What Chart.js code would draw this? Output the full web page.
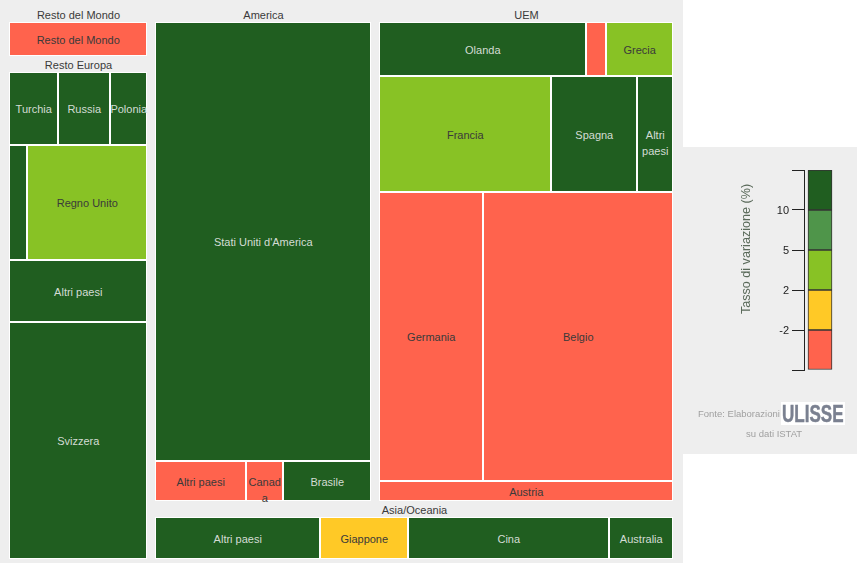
<!DOCTYPE html>
<html><head><meta charset="utf-8">
<style>
html,body{margin:0;padding:0;background:#fff;overflow:hidden;width:857px;height:563px;font-family:"Liberation Sans",Arial,sans-serif}
#mapWrap{position:absolute;left:0;top:0;width:683px;height:563px}
#legendWrap{position:absolute;left:683px;top:147px;width:174px;height:307px;background:#eee}
canvas{display:block}
.src{position:absolute;font-size:9.5px;color:#a0a0a0;white-space:nowrap;line-height:12px}
#logo{position:absolute;left:781px;top:402px;width:64px;height:23px;background:#fff;overflow:hidden}
#logo span{position:absolute;left:1px;top:-2px;font:bold 24px/28px "Liberation Sans",Arial,sans-serif;color:#7a8090;-webkit-text-stroke:.5px #7a8090;transform-origin:0 0;transform:scaleX(.71)}
</style>
<script src="https://cdn.jsdelivr.net/npm/chart.js@4/dist/chart.umd.js"></script>
</head><body>
<div id="mapWrap"><canvas id="map" width="683" height="563" style="width:683px;height:563px"></canvas></div>
<div id="legendWrap"><canvas id="legend" width="174" height="307" style="width:174px;height:307px"></canvas></div>
<div class="src" style="left:698px;top:408px">Fonte: Elaborazioni</div>
<div id="logo"><span>ULISSE</span></div>
<div class="src" style="left:746px;top:428px">su dati ISTAT</div>
<script>
// ---- data ----
const classColors = ['#ff634d', '#ffc926', '#88c225', '#4f954a', '#205e20'];
const classText   = ['#3a3a3a', '#3a3a3a', '#3a3a3a', '#dcdcdc', '#d4dcd4'];

const restoMondoName = 'Resto del Mondo';
const restoMondoLabels = ['Resto del Mondo'];
const restoMondoValues = [69.0];
const restoMondoClasses = [0];
const restoMondoRows = [1];

const restoEuropaName = 'Resto Europa';
const restoEuropaLabels = ['Turchia', 'Russia', 'Polonia', '', 'Regno Unito', 'Altri paesi', 'Svizzera'];
const restoEuropaValues = [36.9, 39.2, 27.9, 21.4, 142.5, 88.4, 337.8];
const restoEuropaClasses = [4, 4, 4, 4, 2, 4, 4];
const restoEuropaRows = [3, 2, 1, 1];

const americaName = 'America';
const americaLabels = ["Stati Uniti d'America", 'Altri paesi', 'Canada', 'Brasile'];
const americaValues = [995.3, 38.2, 15.5, 37.0];
const americaClasses = [4, 0, 0, 4];
const americaRows = [1, 3];

const uemName = 'UEM';
const uemLabels = ['Olanda', '', 'Grecia', 'Francia', 'Spagna', 'Altri paesi', 'Germania', 'Belgio', 'Austria'];
const uemValues = [117.3, 11.3, 38.0, 209.4, 104.7, 43.8, 315.5, 576.3, 61.7];
const uemClasses = [4, 0, 2, 2, 4, 4, 0, 0, 0];
const uemRows = [3, 3, 2, 1];

const asiaName = 'Asia/Oceania';
const asiaLabels = ['Altri paesi', 'Giappone', 'Cina', 'Australia'];
const asiaValues = [95.7, 51.0, 116.6, 37.1];
const asiaClasses = [4, 1, 4, 4];
const asiaRows = [4];

const legendStops = ['', '-2', '2', '5', '10', ''];
const legendBands = [1, 1, 1, 1, 1];
const legendTitle = 'Tasso di variazione (%)';

// ---- layout (derived from the values) ----
const FONT = '"Liberation Sans", Arial, sans-serif';
const DOMAIN = {w: 683, h: 563};
const ROOT = {x: 9, y: 6, w: 664, h: 553};
const HEADER = 16, GAP = 8, LINE = 16;

const mk = (name, labels, values, classes, rows) => ({name, labels, values, classes, rows});
const sum = a => a.reduce((s, v) => s + v, 0);
const G = {
  mondo: mk(restoMondoName, restoMondoLabels, restoMondoValues, restoMondoClasses, restoMondoRows),
  europa: mk(restoEuropaName, restoEuropaLabels, restoEuropaValues, restoEuropaClasses, restoEuropaRows),
  america: mk(americaName, americaLabels, americaValues, americaClasses, americaRows),
  uem: mk(uemName, uemLabels, uemValues, uemClasses, uemRows),
  asia: mk(asiaName, asiaLabels, asiaValues, asiaClasses, asiaRows)
};
const total = g => sum(g.values);
const cells = [], headers = [];
function placeGroup(g, b) {
  headers.push({text: g.name, cx: b.x + b.w / 2, cy: b.y + HEADER / 2});
  const bodyH = b.h - HEADER, tot = total(g);
  let y = b.y + HEADER, idx = 0;
  g.rows.forEach(n => {
    const vals = g.values.slice(idx, idx + n), rs = sum(vals), rh = bodyH * rs / tot;
    let x = b.x;
    vals.forEach((v, k) => {
      const w = b.w * v / rs;
      cells.push({x0: x, x1: x + w, y0: y, y1: y + rh, label: g.labels[idx + k], cls: g.classes[idx + k]});
      x += w;
    });
    y += rh; idx += n;
  });
}
(function () {
  const L = total(G.mondo) + total(G.europa);
  const T = total(G.america) + total(G.uem);
  const R = T + total(G.asia);
  const colW = ROOT.w - GAP;
  const lw = colW * L / (L + R), rw = colW - lw, rx = ROOT.x + lw + GAP;
  const mh = ROOT.h * total(G.mondo) / L;
  placeGroup(G.mondo, {x: ROOT.x, y: ROOT.y, w: lw, h: mh});
  placeGroup(G.europa, {x: ROOT.x, y: ROOT.y + mh, w: lw, h: ROOT.h - mh});
  const th = ROOT.h * T / R, innerW = rw - GAP;
  const aw = innerW * total(G.america) / T;
  placeGroup(G.america, {x: rx, y: ROOT.y, w: aw, h: th});
  placeGroup(G.uem, {x: rx + aw + GAP, y: ROOT.y, w: innerW - aw, h: th});
  placeGroup(G.asia, {x: rx, y: ROOT.y + th, w: rw, h: ROOT.h - th});
})();

// ---- treemap controller built on the library's bar element ----
class TreemapController extends Chart.DatasetController {
  parse() {}
  update(mode) {
    const meta = this._cachedMeta;
    this.updateElements(meta.data, 0, meta.data.length, mode);
  }
  updateElements(rects, start, count, mode) {
    const {xScale, yScale} = this._cachedMeta;
    const list = this.getDataset().cells;
    for (let i = start; i < start + count; i++) {
      const c = list[i];
      const l = Math.round(xScale.getPixelForValue(c.x0)), r = Math.round(xScale.getPixelForValue(c.x1));
      const t = Math.round(yScale.getPixelForValue(c.y0)), b = Math.round(yScale.getPixelForValue(c.y1));
      this.updateElement(rects[i], i, {
        x: (l + r) / 2, y: t, base: b, width: r - l, height: b - t, horizontal: false, inflateAmount: 0,
        borderSkipped: {},
        options: this.resolveDataElementOptions(i, mode)
      }, mode);
    }
  }
}
TreemapController.id = 'treemap';
TreemapController.defaults = {dataElementType: 'bar', animation: false};
TreemapController.overrides = {scales: {x: {type: 'linear'}, y: {type: 'linear'}}};
Chart.register(TreemapController);

function wrap(ctx, text, maxW) {
  const lines = [];
  let cur = '';
  text.split(' ').forEach(word => {
    const test = cur ? cur + ' ' + word : word;
    if (ctx.measureText(test).width <= maxW) { cur = test; return; }
    if (cur) { lines.push(cur); cur = ''; }
    for (const ch of word) {
      if (ctx.measureText(cur + ch).width > maxW && cur) { lines.push(cur); cur = ch; }
      else cur += ch;
    }
  });
  if (cur) lines.push(cur);
  return lines;
}

const mapCanvas = document.getElementById('map');
mapCanvas.getContext('2d', {alpha: false});
const opaqueBg = {
  id: 'opaqueBg',
  beforeDraw(chart) {
    const c = chart.ctx; c.save(); c.fillStyle = '#eee'; c.fillRect(0, 0, chart.width, chart.height); c.restore();
  }
};
const labelsPlugin = {
  id: 'mapLabels',
  afterDatasetsDraw(chart) {
    const c = chart.ctx, xs = chart.scales.x, ys = chart.scales.y;
    c.save();
    c.font = '11px ' + FONT; c.textAlign = 'center'; c.textBaseline = 'middle';
    headers.forEach(h => {
      c.fillStyle = '#3a3a3a';
      c.fillText(h.text, xs.getPixelForValue(h.cx) + 0.5, Math.round(ys.getPixelForValue(h.cy)) + 2);
    });
    cells.forEach(cell => {
      if (!cell.label) return;
      const l = xs.getPixelForValue(cell.x0), r = xs.getPixelForValue(cell.x1);
      const t = ys.getPixelForValue(cell.y0), b = ys.getPixelForValue(cell.y1);
      c.fillStyle = classText[cell.cls];
      wrap(c, cell.label, r - l).forEach((line, i) => {
        c.fillText(line, (l + r) / 2 + 0.25, Math.round((t + b) / 2) + 2 + i * LINE);
      });
    });
    c.restore();
  }
};
new Chart(mapCanvas, {
  type: 'treemap',
  data: {
    labels: cells.map(c => c.label),
    datasets: [{
      data: cells.map((c, i) => i),
      cells,
      backgroundColor: cells.map(c => classColors[c.cls]),
      borderColor: '#ffffff',
      borderWidth: 1,
      borderSkipped: false,
      borderRadius: 0
    }]
  },
  options: {
    responsive: false, animation: false, events: [], devicePixelRatio: 1,
    layout: {padding: 0},
    plugins: {legend: {display: false}, tooltip: {enabled: false}, title: {display: false}},
    scales: {
      x: {type: 'linear', display: false, min: 0, max: DOMAIN.w},
      y: {type: 'linear', display: false, min: 0, max: DOMAIN.h, reverse: true}
    }
  },
  plugins: [opaqueBg, labelsPlugin]
});

// ---- colour key ----
const legendTitlePlugin = {
  id: 'legendTitle',
  afterDraw(chart) {
    const c = chart.ctx, s = chart.scales.y;
    c.save();
    c.translate(s.left + 8, s.top + 79);
    c.rotate(-Math.PI / 2);
    c.font = '12.6px ' + FONT; c.textAlign = 'center'; c.textBaseline = 'middle';
    c.fillStyle = '#5a6a5a';
    c.fillText(legendTitle, 0, 0);
    c.restore();
  }
};
new Chart(document.getElementById('legend'), {
  type: 'bar',
  data: {
    labels: [''],
    datasets: legendBands.map((v, i) => ({
      data: [v], backgroundColor: classColors[i], borderColor: '#333', borderWidth: 1, borderSkipped: false, barThickness: 24
    }))
  },
  options: {
    responsive: false, animation: false, events: [], devicePixelRatio: 1,
    layout: {padding: {left: 56, right: 21, top: 23, bottom: 84}},
    plugins: {legend: {display: false}, tooltip: {enabled: false}},
    scales: {
      x: {stacked: true, display: false},
      y: {
        stacked: true, min: 0, max: legendBands.length,
        afterFit(s) { s.width = 65; },
        border: {display: true, color: '#222', width: 1},
        grid: {display: true, drawOnChartArea: false, drawTicks: true, tickLength: 12, color: '#222', lineWidth: 1},
        ticks: {
          stepSize: 1, padding: 3, color: '#222', labelOffset: 1, font: {family: FONT, size: 11},
          callback: (v) => legendStops[v]
        }
      }
    }
  },
  plugins: [opaqueBg, legendTitlePlugin]
});
</script>
</body></html>
